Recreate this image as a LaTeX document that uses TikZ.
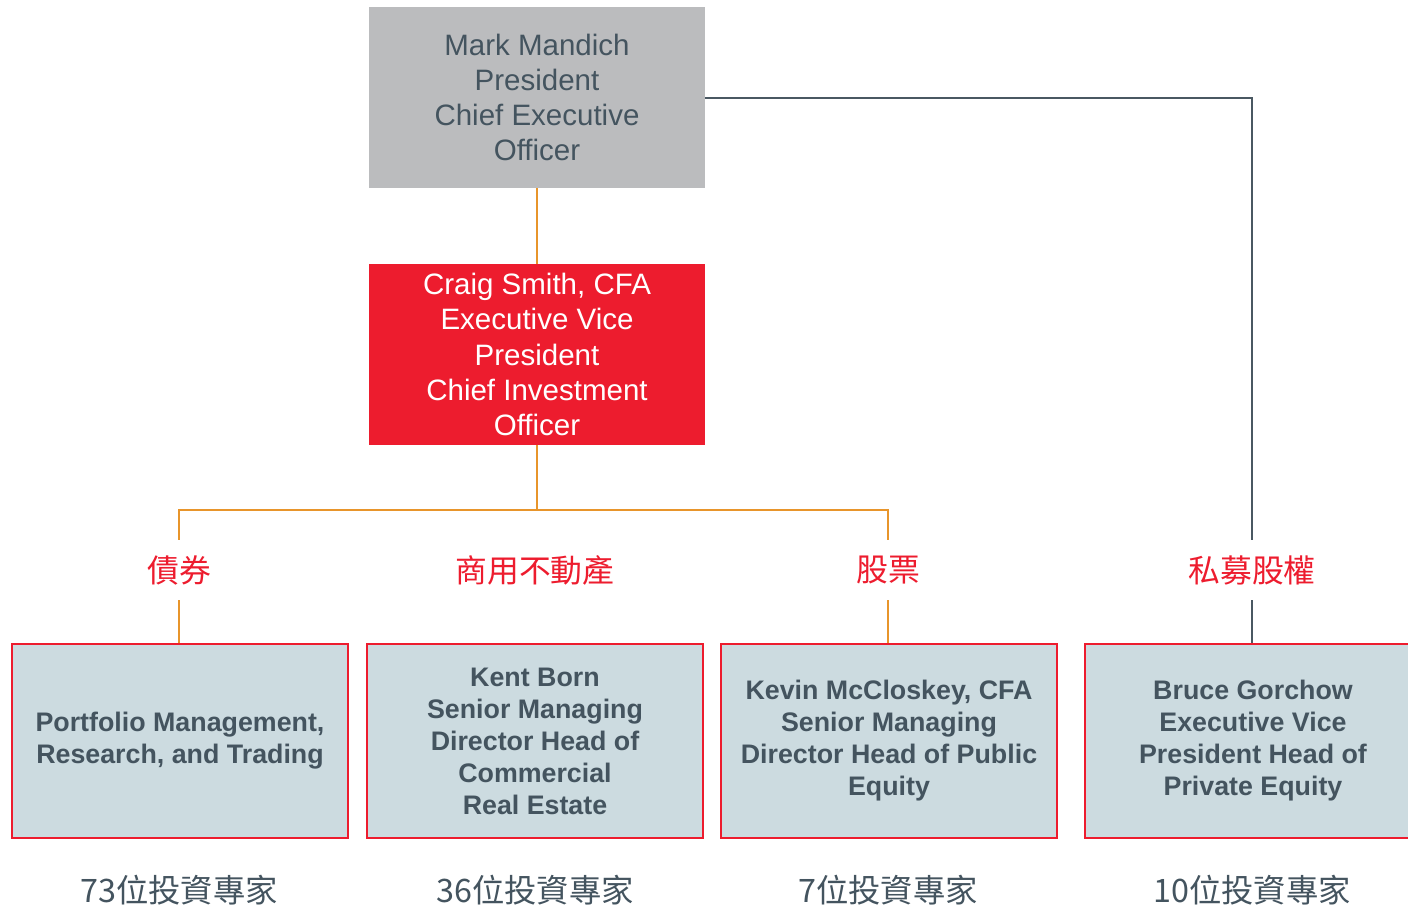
\documentclass[tikz,border=0pt]{standalone}
\usepackage{fontspec}
\setmainfont{Liberation Sans}
\newfontfamily\cjk{Noto Sans CJK TC}
\definecolor{topgray}{HTML}{BBBCBE}
\definecolor{cred}{HTML}{ED1C2E}
\definecolor{txtgray}{HTML}{44545F}
\definecolor{boxfill}{HTML}{CCDBE0}
\definecolor{orline}{HTML}{E8952B}
\definecolor{gline}{HTML}{4A5862}
\begin{document}
\begin{tikzpicture}[x=1pt,y=-1pt,
  exec/.style={rectangle, minimum width=336pt, minimum height=181pt, inner sep=0pt, align=center, font=\fontsize{29.5}{35.3}\selectfont},
  unit/.style={rectangle, draw=cred, line width=1.5pt, fill=boxfill, minimum width=336pt, minimum height=194pt, inner sep=0pt, align=center, text=txtgray, font=\bfseries\fontsize{26.8}{32}\selectfont},
  grp/.style={minimum height=60pt, inner sep=0pt, text=cred, font=\cjk\fontsize{31.8}{31.8}\selectfont},
  cnt/.style={inner sep=0pt, text=txtgray, font=\cjk\fontsize{32.3}{32.3}\selectfont},
  oline/.style={draw=orline, line width=2pt},
  gconn/.style={draw=gline, line width=2pt}]
\useasboundingbox (0,0) rectangle (1408,908);
\clip (0,0) rectangle (1408,908);
\node[exec, fill=topgray, text=txtgray] (top) at (537,97.5) {Mark Mandich\\President\\Chief Executive\\Officer};
\node[exec, fill=cred, text=white] (cio) at (537,354.5) {Craig Smith, CFA\\Executive Vice\\President\\Chief Investment\\Officer};
\coordinate (j) at (537,510);
\node[grp] (l1) at (179,570) {債券};
\node[grp] (l2) at (535,570) {商用不動產};
\node[grp] (l3) at (888,570) {股票};
\node[grp] (l4) at (1252,570) {私募股權};
\node[unit] (b1) at (180,741) {Portfolio Management,\\Research, and Trading};
\node[unit] (b2) at (535,741) {Kent Born\\Senior Managing\\Director Head of\\Commercial\\Real Estate};
\node[unit] (b3) at (889,741) {Kevin McCloskey, CFA\\Senior Managing\\Director Head of Public\\Equity};
\node[unit] (b4) at (1253,741) {Bruce Gorchow\\Executive Vice\\President Head of\\Private Equity};
\node[cnt] (c1) at (179,890) {73位投資專家};
\node[cnt] (c2) at (535,890) {36位投資專家};
\node[cnt] (c3) at (888,890) {7位投資專家};
\node[cnt] (c4) at (1252,890) {10位投資專家};
\draw[oline] (top.south) -- (cio.north);
\draw[oline] (cio.south) -- (j);
\draw[oline] (l1.north) |- (j) -| (l3.north);
\draw[oline] (l1.south) -- (l1.south |- b1.north);
\draw[oline] (l3.south) -- (l3.south |- b3.north);
\draw[gconn] (top.east) -| (l4.north);
\draw[gconn] (l4.south) -- (l4.south |- b4.north);
\end{tikzpicture}
\end{document}
